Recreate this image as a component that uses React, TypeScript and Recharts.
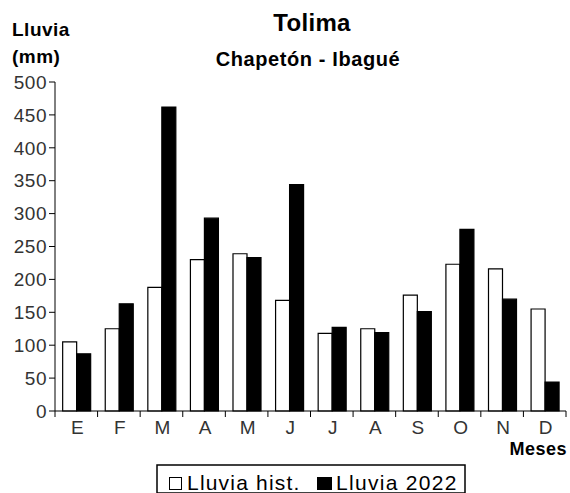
import React from "react";
import { BarChart, Bar, XAxis, YAxis } from "recharts";

const months = ["E", "F", "M", "A", "M", "J", "J", "A", "S", "O", "N", "D"];
const lluviaHist = [105, 125, 188, 230, 239, 168, 118, 125, 176, 223, 216, 155];
const lluvia2022 = [87, 163, 462, 293, 233, 344, 127, 119, 151, 276, 170, 44];
const yTicks = [0, 50, 100, 150, 200, 250, 300, 350, 400, 450, 500];

const data = months.map((m, i) => ({
  mes: m,
  hist: lluviaHist[i],
  y2022: lluvia2022[i],
}));

const W = 570;
const H = 493;
const LEFT = 55;
const RIGHT = 566;
const TOP = 82;
const BOTTOM = 411;
const BAND = (RIGHT - LEFT) / months.length;
const FONT = '"Liberation Sans", Arial, sans-serif';

const MonthTick = (props: any) => {
  const { x, payload, index } = props;
  return (
    <g>
      <line x1={x - BAND / 2} y1={BOTTOM} x2={x - BAND / 2} y2={BOTTOM + 6} stroke="#000" />
      {index === months.length - 1 && (
        <line x1={x + BAND / 2} y1={BOTTOM} x2={x + BAND / 2} y2={BOTTOM + 6} stroke="#000" />
      )}
      <text
        x={x + 1}
        y={BOTTOM + 23}
        textAnchor="middle"
        fontSize={19}
        fill="#333"
        fontFamily={FONT}
      >
        {payload.value}
      </text>
    </g>
  );
};

export default function App() {
  return (
    <div style={{ position: "absolute", left: 0, top: 0, width: W, height: H, background: "#fff" }}>
      <BarChart
        width={W}
        height={H}
        data={data}
        margin={{ top: TOP, right: W - RIGHT, bottom: H - BOTTOM - 30, left: 0 }}
        barCategoryGap="18%"
        barGap={0}
      >
        <XAxis
          dataKey="mes"
          height={30}
          axisLine={{ stroke: "#000" }}
          tickLine={false}
          tick={<MonthTick />}
          interval={0}
        />
        <YAxis
          width={LEFT}
          domain={[0, 500]}
          ticks={yTicks}
          interval={0}
          axisLine={{ stroke: "#000" }}
          tickLine={{ stroke: "#000" }}
          tickSize={6}
          tick={{ fontSize: 19, fill: "#333", fontFamily: FONT, letterSpacing: 0.5 }}
        />
        <Bar dataKey="hist" fill="#fff" stroke="#000" strokeWidth={1.2} isAnimationActive={false} />
        <Bar dataKey="y2022" fill="#000" stroke="#000" strokeWidth={1.2} isAnimationActive={false} />
      </BarChart>
      <svg
        width={W}
        height={H}
        style={{ position: "absolute", left: 0, top: 0, pointerEvents: "none" }}
        fontFamily={FONT}
      >
        <text x={312} y={31} textAnchor="middle" fontSize={24} fontWeight="bold" letterSpacing={0.3}>
          Tolima
        </text>
        <text x={308} y={66} textAnchor="middle" fontSize={20} fontWeight="bold" letterSpacing={0.6}>
          Chapetón - Ibagué
        </text>
        <text x={12} y={36} fontSize={19} fontWeight="bold" letterSpacing={0.5}>
          Lluvia
        </text>
        <text x={12} y={63} fontSize={19} fontWeight="bold" letterSpacing={0.5}>
          (mm)
        </text>
        <text x={567} y={455} textAnchor="end" fontSize={18} fontWeight="bold" letterSpacing={0.5}>
          Meses
        </text>
        <rect x={157} y={465} width={308} height={28} fill="none" stroke="#000" strokeWidth={1.5} />
        <rect x={169.5} y={477.5} width={12} height={12} fill="#fff" stroke="#000" strokeWidth={1} />
        <text x={187} y={490} fontSize={21} letterSpacing={1.2}>
          Lluvia hist.
        </text>
        <rect x={317} y={477} width={15} height={13} fill="#000" />
        <text x={336} y={490} fontSize={21} letterSpacing={1.3}>
          Lluvia 2022
        </text>
      </svg>
    </div>
  );
}
